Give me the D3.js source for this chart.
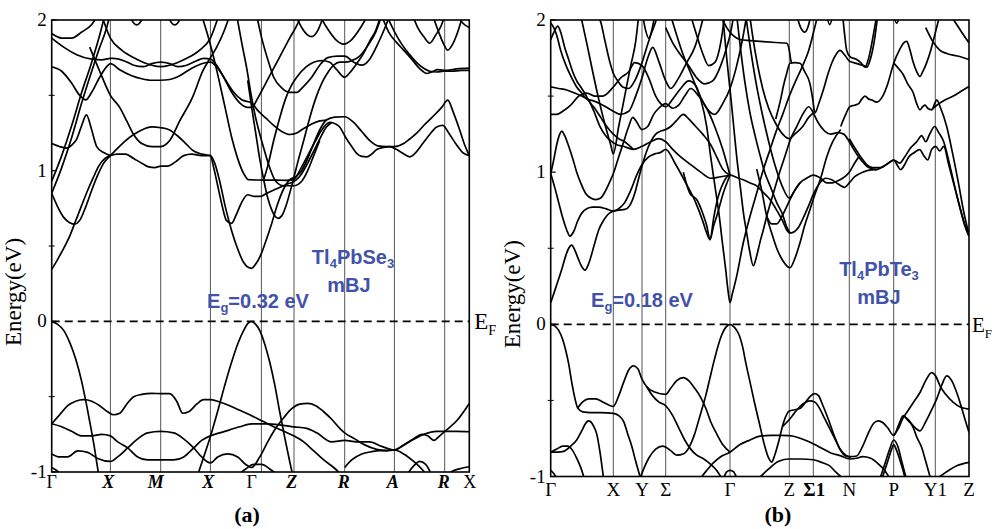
<!DOCTYPE html>
<html><head><meta charset="utf-8">
<script src="https://cdn.jsdelivr.net/npm/d3@7"></script>
<style>body{margin:0;background:#fff}svg{display:block}</style>
</head><body><svg id="c" width="994" height="529"></svg>
<script>
// ---------------- Panel (a) : Tl4PbSe3 ----------------
const energyTicks=[2,1,0,-1];
const minorTicks=[1.5,0.5,-0.5];
const kLinesA=[58.7,109,158.7,209.7,242.3,293,342.7,393];
const kLabelPosA=[0,56.6,104,156.6,200,240,292,341,392,418];
const kLabelsA=["Γ","X","M","X","Γ","Z","R","A","R","X"];
const italicA=[0,1,1,1,0,1,1,1,1,0];

const valenceA=[
 [[0,0],[6,-0.02],[12,-0.06],[18,-0.14],[24,-0.25],[30,-0.4],[35,-0.56],[39,-0.7],[43,-0.85],[47,-1.02]],
 [[146,-1.02],[152,-0.9],[158,-0.78],[165,-0.62],[172,-0.45],[179,-0.29],[186,-0.15],[192,-0.06],[196,-0.015],[200,0],[204,-0.02],[208,-0.06],[213,-0.15],[218,-0.27],[223,-0.42],[228,-0.6],[233,-0.77],[238,-0.93],[241,-1.02]],
 [[0,-0.68],[8,-0.62],[16,-0.56],[24,-0.53],[32,-0.52],[40,-0.53],[48,-0.56],[56,-0.6],[62,-0.62],[68,-0.61],[75,-0.55],[82,-0.5],[90,-0.485],[100,-0.478],[109,-0.48],[118,-0.48],[125,-0.53],[131,-0.61],[137,-0.6],[145,-0.55],[152,-0.52],[159,-0.52],[168,-0.535],[178,-0.56],[188,-0.59],[198,-0.62],[210,-0.66],[222,-0.7],[232,-0.73],[242,-0.76],[252,-0.8],[262,-0.86],[272,-0.92],[282,-0.97],[290,-1.02]],
 [[0,-0.68],[10,-0.7],[20,-0.73],[30,-0.76],[40,-0.76],[50,-0.75],[58.7,-0.76],[66,-0.8],[76,-0.84],[86,-0.9],[96,-0.92],[109,-0.92],[122,-0.92],[132,-0.9],[142,-0.84],[150,-0.79],[158.7,-0.76],[168,-0.74],[178,-0.72],[188,-0.7],[200,-0.68],[215,-0.68],[231,-0.69],[242,-0.7],[255,-0.71],[265,-0.74],[280,-0.8],[293,-0.79],[305,-0.8],[318,-0.8],[330,-0.83],[342.7,-0.854],[352,-0.82],[362,-0.78],[370,-0.75],[376,-0.76],[382,-0.79],[388,-0.76],[395,-0.72],[405,-0.66],[417.6,-0.545]],
 [[0,-0.88],[8,-0.9],[16,-0.9],[26,-0.86],[36,-0.87],[46,-0.91],[58.7,-0.93],[66,-0.9],[76,-0.84],[86,-0.78],[96,-0.74],[109,-0.73],[122,-0.74],[132,-0.78],[142,-0.84],[150,-0.9],[158.7,-0.94],[166,-0.9],[176,-0.88],[186,-0.9],[194,-0.95],[200,-0.97],[208,-0.9],[216,-0.8],[224,-0.71],[232,-0.64],[240,-0.58],[248,-0.55],[256,-0.545],[264,-0.56],[272,-0.6],[280,-0.65],[288,-0.71],[293,-0.74],[303,-0.78],[313,-0.82],[325,-0.85],[335,-0.86],[342.7,-0.854],[352,-0.88],[362,-0.93],[370,-0.98],[375,-1.02]],
 [[293,-0.97],[300,-0.92],[310,-0.88],[320,-0.865],[330,-0.857],[342.7,-0.854],[350,-0.83],[360,-0.79],[372,-0.75],[385,-0.73],[395,-0.73],[405,-0.73],[417.6,-0.733]],
 [[355,-1.02],[362,-0.96],[368,-0.93],[374,-0.95],[380,-1.02]],
 [[394,-1.02],[402,-0.99],[410,-0.975],[417.6,-0.965]],
 [[186,-1.02],[194,-0.98],[202,-0.95],[210,-0.95],[218,-0.98],[226,-1.02]],
 [[0,-0.97],[5,-0.99],[10,-1.02]]
];
const conductionA=[
 [[0,0.345],[5,0.4],[10,0.46],[17,0.55],[23,0.65],[30,0.77],[36,0.87],[42,0.96],[47,1.03],[53,1.08],[58.7,1.1],[66,1.11],[74,1.11],[82,1.08],[90,1.05],[97,1.025],[103,1.02],[109,1.03],[116,1.03],[124,1.06],[132,1.1],[140,1.11],[150,1.1],[158.7,1.1],[163,1.05],[168,0.93],[174,0.75],[180,0.6],[186,0.48],[192,0.39],[196,0.36],[200,0.352],[204,0.38],[209,0.44],[214,0.53],[220,0.65],[226,0.78],[232,0.88],[238,0.94],[244,0.96],[250,1.0],[256,1.08],[262,1.18],[268,1.27],[274.7,1.336],[283,1.355],[293,1.358],[302,1.32],[310,1.26],[318,1.2],[326,1.165],[334.7,1.16],[343,1.16],[352,1.18],[358,1.21],[364.7,1.247],[372,1.3],[381,1.358],[390,1.42],[396,1.468],[402,1.38],[408,1.27],[413,1.17],[417.6,1.1]],
 [[196,0.94],[205,0.938],[215,0.937],[225,0.937],[235,0.936],[242,0.94],[248,1.0],[256,1.1],[264,1.2],[270,1.27],[278,1.32],[284,1.31],[288,1.29],[294,1.22],[300,1.16],[305,1.115],[310,1.095],[315,1.092],[320,1.11],[325,1.14],[332,1.155],[338,1.16],[345,1.14],[351,1.115],[358,1.092],[364,1.12],[371,1.18],[378,1.24],[385,1.29],[391,1.3],[398,1.24],[405,1.17],[411,1.12],[417.6,1.1]],
 [[0,0.85],[6,0.76],[12,0.69],[18,0.655],[23,0.645],[28,0.67],[34,0.76],[40,0.87],[46,0.97],[52,1.05],[58.7,1.1],[66,1.15],[74,1.2],[82,1.24],[90,1.27],[100,1.29],[109,1.285],[118,1.27],[126,1.23],[134,1.18],[142,1.13],[150,1.11],[158.7,1.1],[162,1.02],[166,0.9],[170,0.78],[174.7,0.67],[179.7,0.65],[184.7,0.71],[190,0.79],[196,0.84],[202,0.83],[209,0.83],[215,0.85],[225,0.88],[235,0.91],[244,0.935],[250,0.98],[256,1.05],[262,1.13],[268,1.21],[274.7,1.29],[280,1.32]],
 [[196,1.6],[200,1.42],[204,1.25],[208,1.08],[212,0.94],[216,0.82],[220,0.74],[223,0.7],[226.3,0.684],[230,0.7],[234,0.76],[238,0.85],[242,0.95],[247,1.08],[252,1.2],[258,1.35],[264,1.48],[270,1.58],[276,1.65],[282,1.7],[288,1.72],[293,1.72],[300,1.73],[308,1.76],[316,1.83],[324,1.92],[330,2.03]],
 [[150,2.03],[156,1.9],[162,1.75],[168,1.58],[174,1.4],[180,1.22],[186,1.08],[192,0.98],[196,0.94]],
 [[0,0.93],[10,1.1],[20,1.3],[30,1.52],[40,1.72],[48,1.9],[53,2.03]],
 [[0,0.85],[10,1.02],[20,1.22],[30,1.45],[40,1.66],[47,1.8],[55,1.95],[58,2.03]],
 [[0,1.18],[8,1.16],[15,1.15],[20,1.17],[25,1.21],[30,1.3],[34.7,1.37],[40,1.27],[45,1.16],[52,1.12],[58.7,1.1]],
 [[0,1.91],[10,1.88],[20,1.88],[30,1.92],[40,1.97],[46,2.03]],
 [[0,1.88],[12,1.82],[25,1.77],[40,1.74],[50,1.735],[58.7,1.745],[62,1.745],[72,1.73],[82,1.7],[92,1.69],[100,1.71],[109,1.72],[118,1.71],[126,1.69],[135,1.7],[145,1.73],[152,1.745],[158.7,1.74],[165,1.7],[172,1.62],[180,1.52],[188,1.45],[196,1.42],[200,1.42],[206,1.48],[214,1.58],[222,1.68],[230,1.78],[238,1.88],[244,1.95],[250,2.03]],
 [[0,1.69],[10,1.66],[20,1.58],[28,1.5],[34,1.47],[40,1.52],[48,1.62],[55,1.69],[58.7,1.71],[68,1.67],[80,1.63],[90,1.61],[100,1.6],[109,1.6],[118,1.605],[128,1.63],[140,1.68],[150,1.71],[158.7,1.72],[166,1.68],[174,1.6],[182,1.52],[190,1.47],[200,1.45],[206,1.4],[214,1.35],[222,1.3],[230,1.26],[238,1.24],[245,1.25],[252,1.28],[260,1.31],[268,1.33],[274.7,1.336]],
 [[38,1.82],[48,1.66],[58.7,1.5],[68,1.42],[75,1.33],[81,1.25],[90,1.18],[100,1.16],[109,1.16],[118,1.2],[128,1.33],[141,1.49],[151,1.66],[158.7,1.75],[165,1.82],[172,1.92],[178,2.03]],
 [[50,2.03],[58.7,1.88],[70,1.8],[85,1.74],[100,1.7],[109,1.69],[118,1.7],[133,1.74],[148,1.8],[158.7,1.88],[167,2.03]],
 [[78,2.03],[82,1.98],[85,1.967],[88,1.98],[92,2.03]],
 [[116,2.03],[120,1.98],[123,1.967],[126,1.98],[130,2.03]],
 [[185,2.03],[190,1.85],[195,1.68],[199,1.52],[203,1.38],[207,1.27],[212,1.15],[218,1.02],[224,0.93],[232,0.9],[242,0.9],[250,0.93],[256,1.0],[262,1.1],[268,1.2]],
 [[205,2.03],[210,1.88],[216,1.74],[222,1.62],[230,1.55],[238,1.52],[245,1.52],[252,1.56],[260,1.62],[268,1.7],[276,1.75],[286,1.76],[293,1.76],[302,1.72],[310,1.7],[318,1.74],[326,1.84],[334,1.96],[338,2.03]],
 [[212,0.94],[216,1.03],[222,1.2],[228,1.35],[234,1.48],[240,1.57],[245,1.62],[254.7,1.69],[262,1.72],[270,1.73],[278,1.72],[285,1.67],[293,1.62],[298,1.65],[305,1.71],[312,1.78],[318,1.86],[324,1.93],[329,2.03]],
 [[330,2.03],[337,1.92],[345,1.85],[352,1.8],[360,1.74],[366,1.69],[371,1.66],[375,1.645],[380,1.655],[386,1.67],[395,1.665],[405,1.675],[417.6,1.68]],
 [[335,2.03],[343,1.92],[350,1.84],[358,1.77],[366,1.71],[372,1.68],[378,1.66],[385,1.655],[392,1.66],[400,1.66],[410,1.665],[417.6,1.665]],
 [[381,2.03],[387,1.92],[392,1.84],[396,1.8],[401,1.84],[406,1.92],[411,2.03]],
 [[361,2.03],[366,1.95],[372,1.89],[378,1.847],[384,1.9],[390,1.97],[393,2.03]],
 [[244,2.03],[250,1.95],[256,1.9],[260,1.89],[266,1.93],[272,2.03]],
 [[268,2.03],[276,1.94],[284,1.87],[292,1.84],[300,1.87],[308,1.94],[316,2.03]],
 [[406,2.03],[411,1.98],[417.6,1.95]]
];

// ---------------- Panel (b) : Tl4PbTe3 ----------------
const kLinesB=[62.6,91.3,115,179.3,238.6,262.6,298.6,343,384.6];
const kLabelsB=["Γ","X","Y","Σ","Γ","Z","Σ1","N","P","Y1","Z"];
const kLabelPosB=[0,62.6,91.3,115,179.3,238.6,263.5,298.6,343,384.6,418.3];
const boldB=[0,0,0,0,0,0,1,0,0,0,0];

const valenceB=[
 [[0,0],[4,-0.01],[8,-0.04],[12,-0.1],[15,-0.17],[18,-0.26],[21,-0.38],[24,-0.48],[27,-0.55],[32,-0.575],[40,-0.58],[50,-0.58],[62.6,-0.585],[68,-0.6],[73,-0.64],[77,-0.72],[81,-0.8],[85,-0.9],[89.3,-1.0]],
 [[27,-0.55],[32,-0.51],[38,-0.49],[45,-0.49],[52,-0.51],[58,-0.53],[62.6,-0.54],[68,-0.47],[73,-0.38],[78,-0.3],[82.6,-0.273],[87,-0.29],[91.3,-0.36],[96,-0.41],[104,-0.445],[115,-0.46],[120,-0.42],[126,-0.37],[132.6,-0.35],[138,-0.37],[144,-0.42],[150,-0.48],[155,-0.55],[160,-0.64],[166,-0.72],[172,-0.79],[179.3,-0.84]],
 [[96,-0.41],[102,-0.47],[108,-0.51],[115,-0.535],[122,-0.6],[128,-0.68],[134,-0.76],[140,-0.82],[146,-0.86],[152,-0.88],[160,-0.92],[166,-0.96],[170,-1.0]],
 [[90,-1.0],[93,-0.95],[98,-0.88],[105,-0.82],[112,-0.8],[120,-0.83],[126,-0.86],[133,-0.85],[139,-0.8],[144,-0.72],[148,-0.63],[152,-0.54],[155,-0.47],[159,-0.36],[163,-0.25],[167,-0.15],[171,-0.07],[175,-0.02],[179.3,0],[183,-0.015],[186,-0.04],[189,-0.08],[192,-0.15],[195,-0.25],[199,-0.37],[204,-0.52],[209,-0.66],[214,-0.8],[218,-0.88],[221,-0.905],[224,-0.86],[228,-0.77],[232.6,-0.65],[238.6,-0.57],[245,-0.56],[250,-0.55],[255,-0.51],[260,-0.47],[264.3,-0.455],[268,-0.47],[272,-0.53],[278,-0.63],[284,-0.74],[290,-0.83],[295,-0.865],[300,-0.87],[306,-0.865],[312,-0.8],[318,-0.71],[323,-0.65],[327.6,-0.634],[332,-0.645],[337,-0.68],[343,-0.73],[348,-0.66],[352.6,-0.6],[357,-0.63],[362,-0.67],[366,-0.74],[371,-0.81],[375,-0.9],[379.3,-1.0]],
 [[232,-0.67],[239.3,-0.62],[244,-0.58],[249.3,-0.54],[254,-0.515],[259.3,-0.503],[264,-0.51],[269.3,-0.557],[274,-0.62],[279.3,-0.688],[284,-0.75],[289.3,-0.819],[295,-0.86],[300,-0.875]],
 [[343,-0.73],[348,-0.68],[352,-0.62],[356,-0.58],[362,-0.52],[369.3,-0.448],[375,-0.37],[381,-0.317],[385,-0.34],[389.3,-0.404],[395,-0.46],[402.6,-0.513],[410,-0.545],[418.3,-0.557]],
 [[352.6,-0.6],[358,-0.63],[363,-0.67],[369.3,-0.7],[375,-0.64],[381,-0.56],[386,-0.49],[391,-0.4],[396,-0.339],[401,-0.37],[406,-0.448],[411,-0.55],[415,-0.64],[418.3,-0.71]],
 [[150,-1.01],[156,-0.96],[162.6,-0.91],[170,-0.87],[179.3,-0.84],[189.3,-0.79],[199.3,-0.76],[209.3,-0.735],[220,-0.73],[230,-0.73],[238.6,-0.732],[248,-0.745],[256,-0.765],[264,-0.79],[272.6,-0.82],[280,-0.845],[289.3,-0.863],[299.3,-0.885],[306,-0.88],[312,-0.87],[320,-0.88],[328,-0.92],[334,-0.96],[338,-1.0]],
 [[210,-1.0],[218,-0.95],[228,-0.9],[238.6,-0.885],[250,-0.885],[262.6,-0.89],[272,-0.91],[279,-0.93],[285,-0.97],[290,-1.0]],
 [[330,-1.0],[335,-0.9],[339,-0.82],[343,-0.76],[347,-0.8],[351,-0.9],[355,-1.0]],
 [[332,-1.0],[337,-0.9],[341,-0.82],[343,-0.79],[346,-0.83],[351,-0.93],[354,-1.0]],
 [[389,-1.0],[398,-0.96],[406,-0.93],[418.3,-0.907]],
 [[0,-0.84],[7,-0.84],[13,-0.835],[20,-0.8],[26,-0.76],[31,-0.7],[35,-0.65],[37.6,-0.634],[40,-0.64],[43,-0.67],[46,-0.72],[49.3,-0.84],[52.6,-1.0]],
 [[0,-0.84],[6,-0.82],[12,-0.8],[17,-0.8],[22,-0.83],[26,-0.88],[30,-0.94],[33,-1.0]],
 [[0,-0.96],[3,-0.98],[6,-1.01]],
 [[173,-1.01],[176,-0.97],[179.3,-0.96],[183,-0.97],[186,-1.01]]
];
const conductionB=[
 [[0,0.142],[4,0.22],[8,0.3],[11,0.36],[15,0.45],[18,0.5],[21,0.52],[24,0.49],[27.6,0.43],[31,0.38],[34.3,0.356],[38,0.4],[44.3,0.54],[48,0.62],[52.6,0.68],[57,0.72],[62.6,0.744],[68,0.75],[74.3,0.755],[79,0.78],[84,0.86],[88,0.96],[91.3,1.04],[95,1.12],[100,1.2],[105,1.25],[110,1.27],[115,1.28],[120,1.3],[126,1.34],[132.6,1.38],[138,1.35],[145,1.3],[152,1.25],[160,1.18],[166,1.1],[172,1.02],[179.3,0.98]],
 [[0,0.99],[4,0.9],[8,0.8],[12,0.7],[16,0.62],[19.3,0.58],[23,0.61],[27,0.68],[31,0.73],[36,0.76],[42,0.77],[48,0.77],[55,0.76],[62.6,0.744],[68,0.76],[74,0.8],[80,0.88],[86,0.98],[91.3,1.05],[98,1.1],[104,1.12],[110,1.13],[115,1.15],[125,1.05],[135,0.93],[145,0.8],[152,0.68],[156,0.6],[159.3,0.557],[163,0.65],[166,0.71],[172.6,0.863],[179.3,0.98]],
 [[0,0.99],[3,1.08],[6,1.18],[9,1.25],[11,1.27],[14,1.24],[18,1.17],[22,1.09],[26,1.0],[30,0.93],[35,0.86],[40,0.83],[45,0.82],[50,0.83],[55,0.88],[60,0.95],[62.6,0.99],[68,1.1],[73,1.2],[78,1.3],[82,1.36],[86,1.33],[91.3,1.28],[97,1.3],[103,1.38],[108,1.42],[115,1.45],[122,1.42],[128,1.44],[134,1.5],[140,1.55],[148,1.5],[156,1.42],[164,1.3],[172,1.15],[179.3,0.98]],
 [[0,1.56],[8,1.55],[16,1.54],[24,1.52],[31,1.5],[37.6,1.475],[42.6,1.41],[49.3,1.3],[55,1.24],[59.3,1.21],[66,1.18],[72.6,1.17],[82.6,1.15],[91.3,1.17],[100,1.2],[108,1.22],[115,1.2],[122,1.15],[130,1.1],[140,1.05],[150,1.0],[160,0.96],[170,0.97],[179.3,0.98]],
 [[0,1.38],[6,1.38],[12,1.4],[20,1.44],[28,1.5],[36,1.52],[44,1.5],[52,1.5],[62.6,1.56],[70,1.62],[78,1.66],[84,1.72],[91.3,1.7],[98,1.62],[105,1.5],[110,1.45],[115,1.43],[122,1.48],[130,1.55],[138,1.6],[145,1.57],[150,1.48],[156,1.3],[160,1.1],[164,0.92],[168,0.74],[172,0.52],[175,0.36],[177,0.24],[179.3,0.142],[181.6,0.2],[186,0.317],[192.6,0.536],[199.3,0.71],[206,0.863],[212.6,1.016],[219.3,1.148],[225,1.26],[232,1.38],[238.6,1.5],[245,1.6],[252,1.7],[258,1.8],[264,1.95],[267,2.03]],
 [[0,1.98],[3,1.95],[6,1.9],[10,1.8],[16,1.69],[21,1.62],[26,1.56],[31,1.52],[36,1.48],[42,1.47],[49.3,1.45],[55,1.43],[62.6,1.4],[70,1.38],[78,1.4],[85,1.5],[91.3,1.62],[97,1.75],[102,1.82],[108,1.73],[115,1.6],[120,1.55],[128,1.62],[136,1.72],[144,1.82],[150,1.95],[153,2.03]],
 [[0,1.87],[4,1.93],[7,1.96],[10,1.92],[14,1.82],[18,1.74],[22,1.66],[26,1.6],[30,1.56],[34,1.52],[38,1.47],[44,1.42],[50,1.36],[56,1.3],[62.6,1.25],[68,1.22],[74,1.2],[82.6,1.15]],
 [[30,2.03],[36,1.85],[42,1.66],[48,1.48],[54,1.32],[60,1.18],[62.6,1.12],[68,1.3],[74,1.5],[80,1.7],[85,1.86],[88,2.03]],
 [[44,2.03],[49.3,2.0],[54,1.87],[59.3,1.72],[62.6,1.65],[67,1.6],[72,1.56],[78,1.55],[84,1.6],[91.3,1.72],[96,1.82],[100,1.9],[104,1.97],[107,2.03]],
 [[92,2.03],[95,1.93],[98,1.88],[101,1.93],[104,2.03]],
 [[115,1.95],[122,1.85],[130,1.77],[138,1.7],[146,1.62],[154,1.58],[162,1.6],[170,1.7],[176,1.82],[180,1.92],[183,2.03]],
 [[120,2.03],[126,1.9],[132,1.78],[140,1.65],[148,1.52],[156,1.42],[164,1.38],[172,1.45],[179.3,1.55],[186,1.7],[192,1.88],[196,2.03]],
 [[140,2.03],[146,1.9],[152,1.78],[158,1.7],[164,1.72],[170,1.85],[174,2.03]],
 [[132.6,1.0],[139.3,0.86],[146,0.82],[152,0.73],[156,0.65],[159.3,0.557],[163,0.7],[166,0.8],[172.6,0.93],[179.3,0.98],[186,0.965],[192.6,0.95],[199,0.93],[206,0.91],[212,0.87],[219.3,0.82],[226,0.75],[232.6,0.67],[236,0.62],[239.3,0.6],[244,0.61],[248,0.64],[252.6,0.7],[258,0.78],[263,0.86],[269.3,0.93],[275,0.96],[281,0.95],[288,0.92],[294,0.9],[298.6,0.93],[304,0.97],[312,1.0],[320,1.015],[326,1.017]],
 [[216,0.71],[221,0.66],[226,0.66],[232,0.72],[239.3,0.82],[244,0.88],[249.3,0.93],[256,0.96],[262.6,0.98],[270,0.96],[276,0.93],[282,0.93],[286,0.94],[292,0.96],[298.6,1.0],[304,1.06],[308,1.1]],
 [[206,1.02],[211,0.88],[216,0.71],[221,0.6],[226,0.5],[232,0.42],[239.3,0.372],[244,0.43],[249.3,0.536],[254,0.65],[259.3,0.754],[264,0.85],[270,0.96],[276,1.1],[282,1.2],[290,1.28]],
 [[172,2.03],[176,1.75],[180,1.5],[183,1.3],[186,1.1],[189.3,0.92],[193,0.72],[196,0.6],[199,0.48],[202.6,0.385],[206,0.45],[209.3,0.54],[213,0.63],[216,0.71],[222.6,0.86],[228,0.98],[234,1.1],[240,1.22],[246,1.3],[252,1.38],[258,1.43],[262.6,1.39]],
 [[186,2.03],[190,1.8],[194,1.6],[199,1.4],[204,1.25],[209,1.12],[214,1.0],[220,0.9],[226,0.8],[232,0.72],[236,0.64],[239.3,0.6]],
 [[195,2.03],[200,1.8],[205,1.6],[211,1.4],[218,1.2],[225,1.03],[232,0.9],[238.6,0.83],[244,0.88],[249.3,0.93]],
 [[199,2.03],[203,1.85],[207,1.7],[212,1.55],[218,1.42],[225,1.32],[232,1.25],[238.6,1.22],[244,1.25],[252,1.3],[258,1.36],[262.6,1.39]],
 [[170,2.03],[176,1.95],[182,1.9],[190,1.87],[200,1.865],[212.6,1.858],[225,1.852],[236,1.847],[238.6,1.8],[240,1.74],[241,1.717]],
 [[225,1.35],[230,1.48],[232.6,1.563],[236,1.65],[239.3,1.716],[244,1.72],[249.3,1.716],[254,1.66],[259.3,1.58],[262,1.48],[264.3,1.39],[268,1.45],[272.6,1.54],[277,1.64],[281,1.716],[285,1.77],[289.3,1.8],[294,1.77],[298.6,1.73],[303,1.72],[308,1.71],[313,1.7],[316,1.69],[320,1.75],[324,1.88],[327,2.03]],
 [[262.6,1.39],[268,1.32],[274,1.27],[280,1.25],[287,1.26],[293,1.25],[298.6,1.2],[303,1.15],[308,1.1],[313,1.06],[318,1.03],[326,1.017],[333,1.04],[340,1.07],[343,1.08],[347,1.04],[350,1.017],[354,1.05],[358,1.1],[363,1.126],[369,1.148],[373,1.11],[377,1.08],[381,1.15],[385,1.17],[389,1.14],[393,1.17],[398,1.05],[404,0.9],[410,0.75],[414,0.65],[418.3,0.58]],
 [[298.6,1.22],[304,1.16],[310,1.1],[316,1.05],[322,1.03],[330,1.03],[338,1.06],[343,1.08],[349,1.06],[354,1.1],[360,1.16],[366,1.2],[371,1.24],[375,1.2],[379,1.25],[384,1.3],[388,1.26],[393,1.2],[400,1.02],[406,0.85],[412,0.7],[418.3,0.58]],
 [[290,1.3],[295,1.38],[299.3,1.432],[304,1.44],[308,1.45],[311,1.48],[314.3,1.5],[318,1.48],[321,1.475],[326,1.46],[332,1.5],[337,1.58],[343,1.716],[349.3,1.81],[353,1.85],[356,1.86],[359,1.81],[362.6,1.72],[366,1.66],[369.3,1.628],[372,1.66],[376,1.72],[380,1.8],[384,1.9],[389,2.03]],
 [[343,1.716],[348,1.68],[352.6,1.64],[357,1.58],[362.6,1.52],[366,1.45],[369.3,1.41],[372,1.43],[374.3,1.44],[377,1.42],[381,1.41],[384,1.45],[386,1.475],[390,1.42],[396,1.3],[402,1.12],[408,0.92],[413,0.74],[418.3,0.59]],
 [[381,1.41],[386,1.44],[393,1.47],[402.6,1.5],[410,1.53],[418.3,1.563]],
 [[375,1.95],[382,1.86],[389.3,1.8],[396,1.78],[409,1.76],[418.3,1.74]],
 [[400,2.03],[405,1.98],[411,1.92],[418.3,1.85]],
 [[292,2.03],[294,1.9],[296,1.8],[299.3,1.76],[306,1.74],[310,1.72],[314.3,1.69],[318,1.75],[322.6,1.9],[326,2.03]],
 [[246,2.03],[250,1.95],[254,1.92],[258,1.97],[260,2.03]],
 [[276,2.03],[279,1.97],[282,2.03]],
 [[343,2.03],[346,1.98],[349,2.03]]
];

const svg=d3.select("#c");
const serif="'Liberation Serif','Times New Roman',serif";
const sans="'Liberation Sans',Arial,sans-serif";
const blue="#4152aa";

function drawPanel(o){
  const x=d3.scaleLinear().domain([0,o.kMax]).range([o.left,o.right]);
  const y=d3.scaleLinear().domain([-1,2]).range([o.bottom,o.top]);
  const g=svg.append("g");
  const cid="clip"+o.id;
  svg.append("clipPath").attr("id",cid).append("rect")
    .attr("x",o.left).attr("y",o.top).attr("width",o.right-o.left).attr("height",o.bottom-o.top);
  g.selectAll("line.v").data(o.kLines).join("line")
    .attr("x1",d=>x(d)).attr("x2",d=>x(d)).attr("y1",o.top).attr("y2",o.bottom)
    .attr("stroke","#555").attr("stroke-width",1);
  const line=d3.line().x(d=>x(d[0])).y(d=>y(d[1])).curve(d3.curveMonotoneX);
  const bg=g.append("g").attr("clip-path",`url(#${cid})`);
  bg.selectAll("path").data(o.bands).join("path")
    .attr("d",line).attr("fill","none").attr("stroke","#000").attr("stroke-width",1.7)
    .attr("stroke-linejoin","round");
  g.append("line").attr("x1",o.left).attr("x2",o.right).attr("y1",y(0)).attr("y2",y(0))
    .attr("stroke","#000").attr("stroke-width",1.6).attr("stroke-dasharray","8,5");
  g.append("rect").attr("x",o.left).attr("y",o.top).attr("width",o.right-o.left).attr("height",o.bottom-o.top)
    .attr("fill","none").attr("stroke","#000").attr("stroke-width",1.6);
  g.selectAll("line.t").data(energyTicks).join("line")
    .attr("x1",o.left).attr("x2",o.left+5).attr("y1",d=>y(d)).attr("y2",d=>y(d)).attr("stroke","#000").attr("stroke-width",1.2);
  g.selectAll("line.m").data(minorTicks).join("line")
    .attr("x1",o.left-3).attr("x2",o.left+3).attr("y1",d=>y(d)).attr("y2",d=>y(d)).attr("stroke","#000").attr("stroke-width",1);
  g.selectAll("text.yt").data(energyTicks).join("text")
    .attr("x",o.left-5).attr("y",d=>y(d)+6).attr("text-anchor","end")
    .attr("font-family",serif).attr("font-size",19).text(d=>d);
  g.append("text").attr("transform",`translate(${o.left-31},${(y(0)+y(1))/2+46}) rotate(-90)`)
    .attr("text-anchor","middle").attr("font-family",serif).attr("font-size",23).text("Energy(eV)");
  g.selectAll("text.k").data(o.kLabels).join("text")
    .attr("x",(d,i)=>x(o.kLabelPos[i])).attr("y",o.bottom+o.labelDy).attr("text-anchor","middle")
    .attr("font-family",serif).attr("font-size",o.labelSize)
    .attr("font-style",(d,i)=>o.italic[i]?"italic":"normal")
    .attr("font-weight",(d,i)=>o.bold[i]?"bold":"normal").text(d=>d);
  const ef=g.append("text").attr("x",o.right+o.efDx).attr("y",y(0)+8).attr("font-family",serif).attr("font-size",o.efSize);
  ef.append("tspan").text("E");
  ef.append("tspan").attr("font-size",o.efSize*0.62).attr("dy",6).text("F");
  return {x,y};
}

drawPanel({id:"a",left:51.7,right:469.3,top:20,bottom:472,kMax:417.6,kLines:kLinesA,
  kLabels:kLabelsA,kLabelPos:kLabelPosA,italic:italicA,bold:italicA,labelDy:16,labelSize:18,efDx:5,efSize:23,
  bands:valenceA.concat(conductionA)});
drawPanel({id:"b",left:550.7,right:969,top:20,bottom:476.5,kMax:418.3,kLines:kLinesB,
  kLabels:kLabelsB,kLabelPos:kLabelPosB,italic:kLabelsB.map(()=>0),bold:boldB,labelDy:19,labelSize:19,efDx:3,efSize:21,
  bands:valenceB.concat(conductionB)});

function chem(xc,yb,parts){
  const t=svg.append("text").attr("x",xc).attr("y",yb).attr("text-anchor","middle")
    .attr("font-family",sans).attr("font-weight","bold").attr("font-size",20).attr("fill",blue);
  parts.forEach(p=>{
    if(p[1]) t.append("tspan").attr("font-size",13).attr("dy",4).text(p[0]);
    else { const s=t.append("tspan").text(p[0]); if(p[2]) s.attr("dy",-4); }
  });
}
chem(353,264,[["Tl"],["4",1],["PbSe",0,1],["3",1]]);
chem(349,292,[["mBJ"]]);
chem(258,308,[["E"],["g",1],["=0.32 eV",0,1]]);
chem(642,307,[["E"],["g",1],["=0.18 eV",0,1]]);
chem(879,276,[["Tl"],["4",1],["PbTe",0,1],["3",1]]);
chem(879,304,[["mBJ"]]);

svg.append("text").attr("x",247).attr("y",522).attr("text-anchor","middle").attr("font-family",serif)
  .attr("font-weight","bold").attr("font-size",22).text("(a)");
svg.append("text").attr("x",778).attr("y",522).attr("text-anchor","middle").attr("font-family",serif)
  .attr("font-weight","bold").attr("font-size",22).text("(b)");
</script></body></html>
